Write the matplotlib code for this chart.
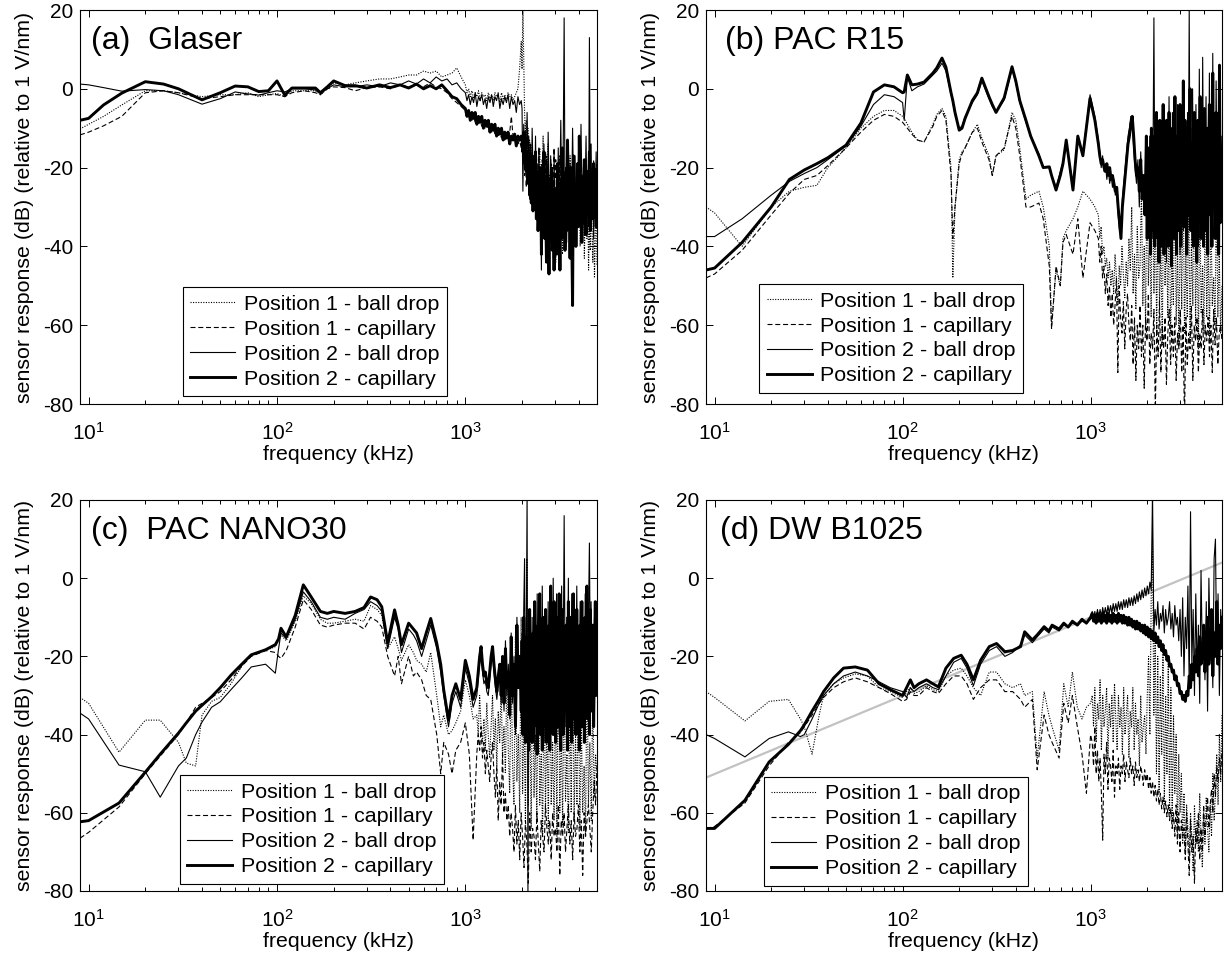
import numpy as np
import matplotlib

matplotlib.use("Agg")
import matplotlib.pyplot as plt
from matplotlib.ticker import FixedLocator, LogFormatterMathtext, LogLocator, NullFormatter

# ---------------------------------------------------------------- data (kHz, dB)
LABELS = [
    "Position 1 - ball drop",
    "Position 1 - capillary",
    "Position 2 - ball drop",
    "Position 2 - capillary",
]

# (a) Glaser
FA = [9, 10, 12, 15, 20, 25, 30, 40, 50, 60, 70, 80, 90, 100, 110, 120, 140, 160, 170, 185,
      200, 230, 260, 300, 350, 400, 450, 500, 550, 600, 650, 700, 750, 800, 850, 900, 950]
A_DOT = [-10.2, -9, -7, -4.1, -0.5, -0.5, -1, -2, -1.5, -1.5, -1, -2, -1.5, -1.2, -2, -0.5, -0.5, -0.5, -1.5, 0,
         1.5, 1, 1.5, 2, 2.5, 2.5, 3, 3.5, 3.5, 4.5, 4, 4.5, 3, 3.5, 4, 5.3, 3]
A_DASH = [-11.7, -11, -9.4, -7, -1, -0.5, -1, -2.5, -2, -1.5, -1.5, -1.5, -1.5, -1.5, -2, -1, -0.5, -1, -1.5, 0,
          0.5, 0.3, -0.5, 0.3, 0.5, 0, 1, 0.5, 1, 0.5, 1.5, 0.5, 0, -1, -2.5, -3.5, -4.5]
A_THIN = [1.2, 1.0, 0.3, -0.6, -0.2, -0.5, -1.5, -3.9, -2.5, -0.8, -1.3, -1.6, -1, -0.5, -0.8, 0, 0, -0.3, -1, 0,
          1, 0.5, 0.5, 1, 0.5, 1.5, 1, 2, 1.2, 2.5, 1.5, 3, 2, 2.5, 1, 1.5, 0]
A_THICK = [-8, -7.5, -4.1, -1.1, 1.8, 1.2, 0, -2.8, -1, 0.7, 0.5, -0.7, -0.5, 2, -1.6, 0.2, 0.2, 0.2, -1, 0.5,
           2, 0.8, 0.8, 0.2, 1, 0.3, 1, 0.2, 1.2, 0, 0.8, 0, 1, -0.5, -2, -2.5, -4]
A_MID_SPAN = (1000, 1980)
A_END_SPAN = (2000, 5000)
A_DOT_MID = [1, -1, 0, -2, -0.5, -2.5, -1, -2, -0.5, -3, -1, -2, -1.5, -3, -1, -2.5, -1.5, -3, -1, -2,
             -1.5, -3.5, -1, -2.5, -1.5, -3, -1, -2, -1.5, -3, -2, -1, 0, 5, 12]
A_DOT_END = [5, 20, 8, -6, -12, -8, -16, -10, -20, -13, -18, -24, -14, -22, -28, -17, -25, -19, -33, -21,
             -27, -15, -30, -19, -24, -12, -29, -20, -33, -17, -26, -14, -29, -22, -31, -19, -36, -24, -41, -29,
             -44, -34, -38, -23, -30, -18, -35, -27, -42, -20, -33, -25, -40, -28, -36, -22, -31, -17, -34, -26,
             -39, -21, -30, -24, -37, -19, -28, -33, -25, -40, -30, -22, -35, -27, -43, -31, -24, -38, -29, -46,
             -33, -41, -28, -36, -44, -30, -48, -38, -25, -45]
A_DASH_MID = [-5.5, -6.5, -7, -6, -8, -7, -8.5, -7.5, -9, -8, -9.5, -8.5, -10, -9, -10.5, -9.5, -11, -10, -11.5, -10.5,
              -12, -11, -12.5, -11, -13, -12, -12.5, -11, -7, -12, -13, -12.5, -14, -13, -15]
A_DASH_END = [-14, -18, -12, -22, -15, -25, -18, -21, -14, -28, -20, -24, -16, -30, -22, -27, -18, -33, -24, -20,
              -15, -29, -22, -26, -18, -31, -20, -25, -16, -27, -21, -29, -23, -31, -18, -25, -20, -27, -15, -23,
              -18, -26, -21, -30, -24, -17, -28, -22, -32, -19, -26, -21, -29, -16, -24, -30, -20, -27, -23, -33,
              -18, -28, -22, -31, -25, -19, -27, -21, -34, -24, -17, -26, -30, -20, -28, -23, -18, -25, -29, -21,
              -24, -19, -27, -22, -30, -18, -25, -20, -23, -19]
A_THIN_MID = [-1, -3, -1.5, -4, -2, -3.5, -1, -4.5, -2, -3, -1.5, -4, -2.5, -5, -2, -3.5, -1.5, -4.5, -2, -3,
              -1, -5, -2.5, -4, -2, -3.5, -1.5, -5, -2, -4, -3, -6, -2, -4, -3]
A_THIN_END = [-5, -26, -9, -15, -11, -19, -6, -17, -12, -23, -14, -27, -10, -21, -17, -30, -12, -26, -19, -34,
              -15, -31, -26, -46, -20, -33, -14, -27, -38, -18, -30, -11, -24, -35, -17, -28, -22, -43, -16, -32,
              -25, -37, -30, -15, -37, -22, -8, -26, -33, -12, 18, -29, -20, -39, -24, -14, -31, -19, -36, -27,
              -10, -23, -34, -17, -40, -28, -21, -33, -15, -26, -9, -24, -31, -18, -37, -25, -12, -29, -22, -35,
              13, -27, -14, -32, -24, -38, -20, -28, -16, -30]
A_THICK_MID = [-5, -7, -5.5, -8, -6, -7.5, -6, -9, -7, -8.5, -7, -10, -8, -9.5, -8, -11, -9, -10.5, -9, -12,
               -10, -11.5, -10, -13, -11, -12.5, -11, -14, -12, -13, -11.5, -14.5, -12, -13, -12]
A_THICK_END = [-13, -16, -11, -19, -14, -21, -16, -24, -18, -27, -20, -29, -17, -31, -22, -27, -16, -33, -21, -36,
               -28, -34, -20, -42, -25, -31, -16, -38, -29, -44, -22, -33, -47, -28, -37, -21, -41, -30, -46, -33,
               -26, -42, -19, -35, -27, -46, -24, -38, -15, -34, -22, -41, -28, -36, -13, -30, -25, -43, -20, -37,
               -55, -17, -33, -24, -40, -27, -19, -35, -12, -31, -22, -39, -26, -34, -18, -29, -37, -21, -32, -25,
               -16, -36, -28, -23, -33, -19, -30, -26, -35, -22]

# (b) PAC R15
FB = [9, 10, 14, 20, 25, 30, 35, 40, 50, 60, 70, 80, 90, 100, 102, 106, 112, 120, 130, 145,
      152, 162, 170, 181, 185, 190, 200, 207, 215, 235, 250, 264, 288, 300, 314, 347, 382, 400, 420, 453,
      480, 531, 560, 603, 620, 655, 690, 713, 742, 806, 855, 910, 993, 1054]
B_DOT = [-30, -31.5, -40, -30, -26, -25, -24.5, -20, -15, -10, -7, -5.5, -5.5, -7, -7.5, -9, -11, -13, -13.5, -9,
         -6.5, -5, -7, -20, -48, -30, -18, -16, -15, -11, -9, -12.5, -17, -22, -17, -15.5, -6, -8, -15, -28,
         -27, -26, -30, -40, -60, -46, -50, -38, -36, -33, -30, -26, -28, -30]
B_DASH = [-48, -47, -41, -32, -26.5, -23, -22, -19.5, -15, -11, -8, -6.5, -7, -8.5, -9, -10, -11.5, -13, -13.5, -9.5,
          -7, -5.5, -8, -22, -38, -30, -19, -16.5, -15, -11, -10, -13.5, -18, -22, -17, -15, -7, -10, -17, -30,
          -30, -29, -33, -45, -61, -45, -50, -39, -37, -42, -33, -48, -34, -36]
B_THIN = [-37.5, -37.5, -33, -27, -23.5, -21.5, -20, -18, -14.5, -9.5, -4, -1.5, -2, -3.5, -8, 3, -0.5, 0.5, 1.2, 3.5,
          4.5, 6.5, 4.5, -1.5, -3.5, -6.5, -10, -9.5, -7, -3.5, -1.5, 2, -2.5, -4.5, -6, -2.8, 5, 1.5, -3.5, -8.5,
          -12, -16.5, -20, -20, -22, -25, -21, -18.5, -13, -25, -12.5, -16.5, -1.5, -7]
B_THICK = [-46, -45.5, -39, -30, -23, -20.6, -19, -17.5, -14.3, -8.7, -0.8, 1, 0.5, -1, -0.8, 3.5, 1, 1.2, 1.7, 4,
           5.3, 7.8, 5.5, -1, -3, -6, -10.5, -10, -7.5, -3, -1, 2.7, -2, -4, -6, -2.3, 5.6, 2, -3, -8,
           -12, -17, -20, -19.8, -22, -25.7, -22, -19, -13, -25.7, -12, -17, -2.4, -8]
B_TAIL_SPAN = (1100, 5000)
B_MID_SPAN = (1100, 1980)
B_END_SPAN = (2000, 5000)
B_DOT_TAIL = [-32, -38, -35, -42, -40, -45, -43, -48, -44, -50, -46, -52, -42, -48, -55, -45, -50, -40, -47, -53,
              -44, -50, -38, -46, -30, -52, -42, -56, -35, -48, -45, -25, -55, -40, -60, -20, -50, -35, -58, -15,
              -52, -30, -62, -25, -55, -40, -65, -20, -50, -35, -58, -28, -62, -45, -55, -18, -60, -40, -65, -30,
              -56, -20, -62, -42, -58, -25, -64, -38, -55, -15, -60, -35, -66, -28, -57, -45, -62, -22, -58, -40,
              -64, -30, -55, -48, -60, -25, -58, -42, -62, -50]
B_DASH_TAIL = [-38, -44, -40, -48, -45, -52, -47, -55, -50, -58, -52, -60, -55, -48, -72, -50, -58, -62, -54, -66,
               -56, -52, -60, -64, -55, -70, -58, -74, -60, -66, -55, -68, -60, -76, -58, -64, -52, -70, -62, -66,
               -56, -82, -60, -68, -54, -72, -60, -66, -58, -75, -62, -56, -70, -60, -68, -58, -74, -62, -66, -56,
               -72, -60, -85, -58, -70, -62, -66, -55, -74, -60, -64, -58, -72, -62, -66, -56, -70, -60, -64, -58,
               -68, -60, -72, -56, -65, -58, -70, -62, -60, -64]
B_THIN_MID = [-13, -16, -20, -17, -21, -19, -23, -20, -24, -22, -25, -23, -27, -26, -32, -36, -37, -28, -24, -20,
              -16, -12, -10, -7, -9, -15, -20, -24, -18, -30, -16, -26, -24, -30, -14]
B_THIN_END = [-28, -20, -34, -12, -30, -22, -38, -15, 18, -25, -15, -38, -22, -30, -8, -34, -14, -40, -20, -30,
              -5, -36, -18, -44, -10, -28, -2, -32, -14, -40, -6, -24, -16, -34, -12, -38, -4, -26, -18, -42,
              -8, -30, -20, -36, 0, -28, -12, -40, -6, -24, 20, -30, -10, -38, 0, -26, -12, -36, -4, -30,
              -14, -40, 5, -24, -10, -34, 8, -22, -16, -30, -2, -36, -12, -28, 4, -32, -18, -40, 9, -26,
              -10, -34, 2, -22, -16, -38, 6, -26, -12, -20]
B_THICK_MID = [-14, -17, -19, -18, -20, -21, -19, -22, -20, -23, -22, -24, -26, -25, -30, -34, -38, -30, -26, -22,
               -18, -14, -12, -9, -7, -12, -18, -22, -20, -26, -18, -28, -22, -32, -12]
B_THICK_END = [-38, -15, -30, -22, -42, -10, -28, -36, -12, -40, -20, -6, -35, -18, -44, -8, -40, -22, -30, -4,
               -42, -14, -38, -8, -25, -40, -6, -32, -22, -45, -10, -28, -38, -2, -30, -42, -12, -26, -36, -4,
               -40, -15, -30, 2, -35, -8, -28, -42, -10, -32, -20, 0, -36, -14, -24, -40, -6, -30, -18, -44,
               -8, -34, -22, -2, -38, -12, -28, -40, -5, -26, -36, -10, -42, -18, -4, -32, -24, -40, 4, -30,
               -14, -38, -6, -28, -20, -42, 6, -34, -16, -24]

# (c) PAC NANO30
FC = [9, 10, 14.5, 20, 24, 30, 33, 37, 40, 45, 50, 57, 65, 73, 87, 98, 102, 105, 112, 125,
      138, 152, 170, 185, 200, 230, 260, 290, 314, 340, 360, 387, 421, 440, 458, 500, 530, 551, 586, 620,
      655, 705, 740, 768, 814, 850, 890, 944, 1000, 1050, 1100]
C_DOT = [-30.5, -32, -44.5, -36.3, -36.3, -42, -47.3, -48, -35, -31.5, -30.5, -27, -22.5, -19.5, -18.5, -17.5, -16, -14.5, -16, -11,
         -4.5, -6.5, -10.5, -11.5, -11.5, -11, -10.5, -11, -7, -8, -9.5, -18, -15, -18, -21, -17, -19, -21, -22, -24,
         -19, -30, -38, -35, -40, -39, -37, -34, -26, -30, -36]
C_DASH = [-66.5, -65, -58.5, -50, -45.5, -40, -37, -33, -32, -30.5, -29, -26, -22.5, -20, -18.5, -19, -20, -20.5, -18.5, -12.5,
          -5.5, -8, -12, -12.5, -12, -11.5, -11.5, -13, -10, -11, -12.5, -20, -25, -20, -27, -20, -25, -24, -26, -30,
          -31, -40, -50, -42, -45, -50, -44, -42, -37, -45, -67]
C_THIN = [-34.5, -36, -47.8, -49.5, -56, -48, -46, -40, -36.8, -33, -31.6, -28.5, -25.5, -22.7, -22, -24.3, -18, -14, -15.5, -10.5,
          -3.5, -6, -10, -10.5, -10, -10.5, -9, -8, -6, -7, -8.5, -18, -10, -13, -19, -13, -14.5, -16, -20, -16,
          -12, -18, -24, -30, -38, -32, -29, -33, -23, -27, -33]
C_THICK = [-62.3, -62, -57.5, -49.6, -45, -39.6, -37, -34, -32.5, -30.3, -28, -24.8, -22, -19.6, -18.3, -17, -15.5, -12.8, -15, -9.5,
           -1.7, -4.8, -8.5, -9, -8.5, -9, -8.5, -7.5, -4.8, -5.5, -7.3, -16.6, -8.1, -12, -17, -11.5, -13, -14, -18, -14,
           -10.3, -16.6, -22, -28.6, -36.3, -30, -27, -31, -21, -25, -31]
C_TAIL_SPAN = (1150, 5000)
C_MID_SPAN = (1150, 1980)
C_END_SPAN = (2000, 5000)
C_DOT_TAIL = [-35, -40, -30, -38, -42, -36, -44, -32, -40, -46, -38, -30, -44, -36, -48, -34, -42, -28, -46, -38,
              -50, -25, -44, -55, -20, -48, -58, -15, -52, -40, -60, -10, -55, -35, -62, 5, -58, -30, -64, -20,
              -56, -40, -62, -15, -58, -45, -66, -25, -60, -35, -64, -18, -58, -42, -62, -28, -66, -12, -60, -38,
              -63, -22, -57, -45, -65, -30, -60, -15, -62, -40, -58, -25, -64, -35, -60, -48, -66, -20, -58, -42,
              -62, -30, -56, -45, -50]
C_DASH_TAIL = [-45, -40, -44, -38, -46, -42, -50, -44, -48, -52, -46, -42, -50, -56, -48, -62, -52, -58, -45, -60,
               -55, -62, -58, -66, -60, -64, -70, -58, -68, -62, -72, -60, -66, -74, -62, -68, -78, -60, -70, -64,
               -66, -72, -60, -68, -75, -62, -66, -70, -58, -64, -68, -62, -72, -60, -66, -64, -70, -58, -76, -62,
               -66, -60, -70, -64, -58, -68, -62, -72, -60, -66, -64, -58, -70, -62, -76, -60, -66, -62, -58, -64,
               -70, -60, -52, -58, -48]
C_THIN_MID = [-30, -26, -22, -20, -24, -27, -26, -29, -30, -26, -22, -20, -24, -28, -31, -27, -24, -32, -22, -34,
              -16, -30, -22, -36, -14, -32, -20, -40, -10, -26, -22, -36]
C_THIN_END = [-14, -38, -8, 5, -34, -18, 22, -82, -12, -34, -18, -30, -10, -36, -16, -44, -12, -28, -4, -34,
              -18, -40, -10, -26, -2, -32, -14, -42, -8, -24, -36, -6, -30, -20, -38, -10, -28, 0, -34, -13,
              -26, -4, -32, -16, -40, -8, -24, -2, -30, -18, 16, -20, -38, -10, -28, 0, -34, -13, -26, -4,
              -32, -16, -40, -8, -24, -2, -30, -12, -22, -6, -32, -14, -26, -10, -38, -4, -28, -16, -34, -8,
              9, -22, -6, -32, -14, -26, -10, -30, -18, -12]
C_THICK_MID = [-28, -24, -20, -17.5, -22, -25, -24, -27, -28, -24, -20, -17.5, -22, -26, -29, -25, -22, -30, -20, -32,
               -18, -28, -24, -35, -15, -30, -22, -38, -12, -28, -20, -34]
C_THICK_END = [-16, -40, -10, -24, -42, -15, -36, -20, -44, -8, -34, -18, -42, -14, -38, -6, -32, -20, -45, -12,
               -24, -4, -40, -16, -44, -10, -22, -38, -8, -42, -18, -36, -12, -44, -2, -32, -15, -40, -6, -30,
               -42, -18, -10, -38, -4, -28, -44, -20, -8, -40, -16, -34, -12, -30, -44, -6, -26, -38, -10, -42,
               -20, -4, -36, -14, -40, -8, -32, -22, -44, -12, -28, -6, -38, -18, -42, -10, -30, -2, -36, -16,
               -40, -8, -26, -34, -12, -38, -20, -6, -30, -14]

# (d) DW B1025
FD = [9, 10, 14.5, 19.5, 24.7, 28.6, 30, 33, 36, 38, 43, 48.5, 56, 65, 75, 86, 100, 105, 110, 115,
      122, 134, 145, 155, 170, 187, 205, 220, 238, 260, 289, 316, 350, 385, 424, 446, 490, 520, 566, 600,
      624, 680, 720, 760, 800, 850, 900, 950, 1000]
D_DOT = [-29, -30.5, -36.5, -31.5, -31, -36, -38, -45, -35, -30, -27, -25.5, -24.5, -25, -28, -29, -30.5, -29, -28, -29.5,
         -29, -27.5, -28.5, -29, -25, -23.5, -23, -25, -28, -30, -24, -24, -27, -28, -27, -30, -29, -46, -29, -35,
         -38, -44, -27, -33, -24, -33, -36, -33, -32]
D_DASH = [-64, -63.5, -57.5, -48, -42, -39.5, -38, -35, -32, -30.5, -28, -26.5, -25.5, -26.5, -28, -29.5, -31.5, -31, -29, -30,
          -30, -28, -29, -29.5, -27, -25, -25, -27, -31, -28, -26, -26, -29, -29, -31, -33, -31, -49, -35, -40,
          -42, -46, -32, -37, -30, -38, -45, -55, -40]
D_THIN = [-40, -41, -45.7, -41, -39.3, -40.5, -40, -36, -32, -30, -27, -25, -24, -25, -26.5, -28, -29, -30.5, -28, -29,
          -28, -27, -28, -28.5, -25, -21.5, -20.5, -23, -27.5, -22, -18.5, -17.5, -20, -19, -17, -14.5, -16.5, -15, -13, -14,
          -12.5, -13.5, -12, -12.5, -11.5, -12, -11, -11.5, -10.5]
D_THICK = [-64, -64, -56.8, -47, -42.5, -39, -37.5, -34, -31, -29, -25.5, -23, -22.7, -23.5, -27, -28.5, -30, -28, -26, -28,
           -27, -26, -27, -27.8, -23, -20.5, -19.7, -22, -26, -21, -17.5, -16.7, -18.8, -18.5, -17.5, -13.7, -15.8, -14.5, -12.4, -13.5,
           -12, -13, -11.5, -12.5, -11, -12, -10.5, -11.5, -10]
D_TAIL_SPAN = (1020, 5000)
D_DOT_TAIL = [-30, -38, -28, -42, -32, -36, -26, -44, -30, -38, -34, -28, -46, -32, -38, -30, -42, -27, -36, -44,
              -30, -38, -33, -45, -28, -40, -35, -30, -46, -34, -38, -28, -44, -32, -40, -36, -48, -30, -42, -38,
              -35, -45, -30, -20, -40, -5, 10, -35, -15, -50, -20, -55, -25, -45, -18, -58, -30, -50, -22, -60,
              -28, -62, -35, -55, -40, -65, -45, -60, -50, -68, -55, -70, -58, -64, -72, -60, -66, -75, -58, -68,
              -62, -70, -55, -66, -74, -60, -68, -56, -64, -70, -58, -66, -50, -62, -55, -45, -58, -40, -52, -35]
D_DASH_TAIL = [-42, -48, -38, -50, -44, -52, -46, -55, -67, -45, -50, -42, -54, -46, -48, -52, -44, -56, -48, -50,
               -46, -54, -48, -50, -45, -52, -47, -49, -51, -46, -50, -48, -53, -47, -51, -49, -52, -48, -50, -53,
               -49, -52, -50, -54, -51, -55, -52, -56, -53, -57, -54, -58, -55, -59, -56, -60, -57, -61, -58, -62,
               -59, -64, -60, -66, -58, -68, -60, -70, -62, -66, -64, -72, -60, -68, -76, -62, -70, -66, -78, -64,
               -68, -60, -72, -64, -70, -58, -66, -62, -56, -64, -58, -54, -60, -50, -56, -48, -52, -46, -50, -44]
D_THIN_TAIL = [-8.5, -10.5, -8.5, -10.5, -8, -10, -8, -10, -7.5, -9.5, -7.5, -9.5, -7, -9, -7, -9, -6.5, -8.5, -6.5, -8.5,
               -6, -8, -6, -8, -5.5, -7.5, -5.5, -7.5, -5, -7, -5, -7, -4.5, -6.5, -4, -6, -3.5, -5.5, -3, -5,
               -2.5, -4.5, -2, -4, -1, -3, 22, -14, -8, -12, -6, -13, -9, -11, -7, -14, -8, -12, -10, -6,
               -13, -9, -15, -7, -12, -10, -16, -8, -20, -5, -25, -10, -18, -2, -28, 17, -22, -8, -30, -4,
               -24, -12, -32, 2, -20, -14, -26, -6, -34, 0, -18, -10, -28, 5, 10, -22, -4, -30, -8, -15]
D_THICK_TAIL = [-9, -11, -9.5, -11.5, -9, -11, -9.5, -11.5, -9, -11, -9.5, -11.5, -9, -11, -9.5, -11.5, -9, -11, -9.5, -11.5,
                -9, -11, -9.5, -11.5, -9.5, -11.5, -10, -12, -10, -12, -10.5, -12.5, -11, -13, -11, -13, -11.5, -13.5, -12, -14,
                -12, -14.5, -12.5, -15, -13, -15.5, -13.5, -16, -14, -16.5, -15, -17.5, -16, -18.5, -17, -19.5, -18.5, -21, -20, -22.5,
                -22, -24, -23.5, -26, -25, -27.5, -27, -29.5, -29, -31, -30, -31.5, -29, -30, -25, -28, -22, -26, -20, -24,
                -18, -25, -15, -22, -20, -12, -24, -16, -10, -22, -18, -8, -25, -14, -20, -6, -22, -12, -18, -10]
D_REF_FREQ = [9, 5000]
D_REF_DB = [-51, 4]

PANEL_TITLES = ["(a)  Glaser", "(b) PAC R15", "(c)  PAC NANO30", "(d) DW B1025"]

# ---------------------------------------------------------------- style
plt.rcParams.update(
    {
        "font.family": ["Liberation Sans", "DejaVu Sans"],
        "mathtext.fontset": "custom",
        "mathtext.rm": "Liberation Sans",
        "mathtext.it": "Liberation Sans:italic",
        "mathtext.bf": "Liberation Sans:bold",
        "mathtext.default": "regular",
        "axes.unicode_minus": False,
        "font.size": 14,
        "axes.linewidth": 0.8,
    }
)

LINE_STYLES = [
    dict(color="black", linewidth=0.8, linestyle=(0, (1.0, 1.3))),
    dict(color="black", linewidth=0.8, linestyle=(0, (4.5, 2.5))),
    dict(color="black", linewidth=0.8, linestyle="-"),
    dict(color="black", linewidth=2.1, linestyle="-"),
]


def trace(freq, db, segments):
    """Join the hand-read smooth part with the noisy parts, each read over a span."""
    f = [np.asarray(freq, float)]
    d = [np.asarray(db, float)]
    for span, vals in segments:
        f.append(np.geomspace(span[0], span[1], len(vals)))
        d.append(np.asarray(vals, float))
    return np.concatenate(f), np.concatenate(d)


panels = [
    (FA, [A_DOT, A_DASH, A_THIN, A_THICK],
     [[(A_MID_SPAN, A_DOT_MID), (A_END_SPAN, A_DOT_END)],
      [(A_MID_SPAN, A_DASH_MID), (A_END_SPAN, A_DASH_END)],
      [(A_MID_SPAN, A_THIN_MID), (A_END_SPAN, A_THIN_END)],
      [(A_MID_SPAN, A_THICK_MID), (A_END_SPAN, A_THICK_END)]]),
    (FB, [B_DOT, B_DASH, B_THIN, B_THICK],
     [[(B_TAIL_SPAN, B_DOT_TAIL)],
      [(B_TAIL_SPAN, B_DASH_TAIL)],
      [(B_MID_SPAN, B_THIN_MID), (B_END_SPAN, B_THIN_END)],
      [(B_MID_SPAN, B_THICK_MID), (B_END_SPAN, B_THICK_END)]]),
    (FC, [C_DOT, C_DASH, C_THIN, C_THICK],
     [[(C_TAIL_SPAN, C_DOT_TAIL)],
      [(C_TAIL_SPAN, C_DASH_TAIL)],
      [(C_MID_SPAN, C_THIN_MID), (C_END_SPAN, C_THIN_END)],
      [(C_MID_SPAN, C_THICK_MID), (C_END_SPAN, C_THICK_END)]]),
    (FD, [D_DOT, D_DASH, D_THIN, D_THICK],
     [[(D_TAIL_SPAN, t)] for t in (D_DOT_TAIL, D_DASH_TAIL, D_THIN_TAIL, D_THICK_TAIL)]),
]

W, H = 1225, 968
# axes boxes in pixels: left, top, right, bottom
boxes = [(80, 10, 597, 404), (706, 10, 1222, 404), (80, 500, 597, 891), (706, 500, 1222, 891)]
legend_anchor = [(0.199, 0.02), (0.103, 0.028), (0.193, 0.018), (0.112, 0.013)]
title_x = [0.021, 0.036, 0.021, 0.028]

fig = plt.figure(figsize=(W / 100, H / 100), dpi=100, facecolor="white")

for idx, (freq, smooth, segs) in enumerate(panels):
    l, t, r, b = boxes[idx]
    ax = fig.add_axes([l / W, 1 - b / H, (r - l) / W, (b - t) / H])

    if idx == 3:
        ax.plot(D_REF_FREQ, D_REF_DB, color="#C2C2C2", linewidth=1.6, zorder=1)

    for k in range(4):
        f, d = trace(freq, smooth[k], segs[k])
        ax.plot(f, d, label=LABELS[k], zorder=2 + k, **LINE_STYLES[k])

    ax.set_xscale("log")
    ax.set_xlim(9, 5000)
    ax.set_ylim(-80, 20)
    ax.xaxis.set_major_locator(FixedLocator([10, 100, 1000]))
    ax.xaxis.set_major_formatter(LogFormatterMathtext(base=10))
    ax.xaxis.set_minor_locator(LogLocator(base=10, subs=np.arange(2, 10)))
    ax.xaxis.set_minor_formatter(NullFormatter())
    ax.set_yticks([-80, -60, -40, -20, 0, 20])
    ax.tick_params(which="both", direction="in", top=True, right=True, width=0.7)
    ax.tick_params(which="major", length=5)
    ax.tick_params(which="minor", length=3)
    ax.tick_params(axis="x", which="major", pad=13, labelsize=15)
    ax.tick_params(axis="y", which="major", pad=5, labelsize=15)

    ax.set_xlabel("frequency (kHz)", fontsize=15.4, labelpad=1)
    ax.set_ylabel("sensor response (dB) (relative to 1 V/nm)", fontsize=15.4, labelpad=6)

    ax.text(title_x[idx], 0.96, PANEL_TITLES[idx], transform=ax.transAxes,
            fontsize=23, ha="left", va="top", zorder=10)

    leg = ax.legend(loc="lower left", bbox_to_anchor=legend_anchor[idx], borderaxespad=0,
                    fontsize=15.4, frameon=True, fancybox=False, framealpha=1,
                    edgecolor="black", handlelength=2.1, handletextpad=0.4,
                    labelspacing=0.28, borderpad=0.35)
    leg.get_frame().set_linewidth(0.8)
    leg.set_zorder(20)

fig.savefig("out.png", dpi=100, facecolor="white")
